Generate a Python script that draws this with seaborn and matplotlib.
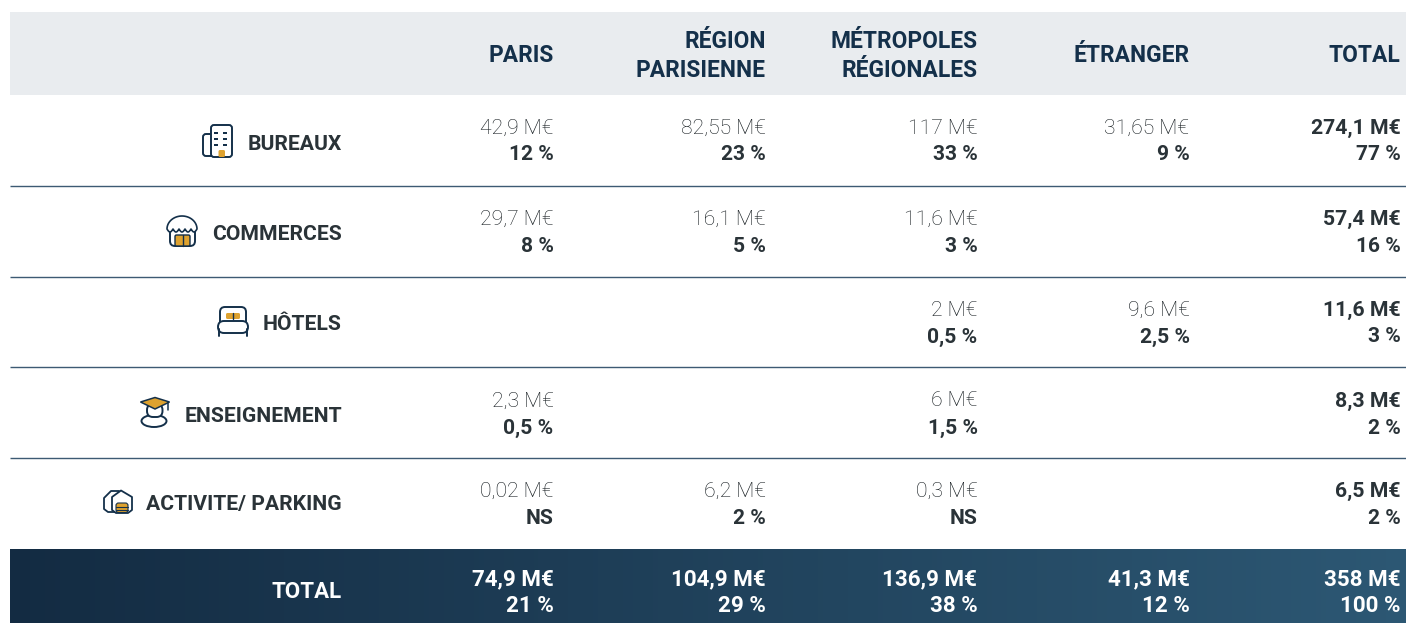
import numpy as np
import matplotlib
matplotlib.use("Agg")
import matplotlib.pyplot as plt
from matplotlib.patches import Rectangle, FancyBboxPatch, Ellipse, Polygon
import seaborn as sns

sns.set_theme(style="white")
plt.rcParams['font.family'] = ['Roboto', 'DejaVu Sans']

columns = ["PARIS", "RÉGION\nPARISIENNE", "MÉTROPOLES\nRÉGIONALES", "ÉTRANGER", "TOTAL"]
categories = ["BUREAUX", "COMMERCES", "HÔTELS", "ENSEIGNEMENT", "ACTIVITE/ PARKING"]

bureaux_val = ["42,9 M€", "82,55 M€", "117 M€", "31,65 M€", "274,1 M€"]
bureaux_pct = ["12 %", "23 %", "33 %", "9 %", "77 %"]
commerces_val = ["29,7 M€", "16,1 M€", "11,6 M€", "", "57,4 M€"]
commerces_pct = ["8 %", "5 %", "3 %", "", "16 %"]
hotels_val = ["", "", "2 M€", "9,6 M€", "11,6 M€"]
hotels_pct = ["", "", "0,5 %", "2,5 %", "3 %"]
enseignement_val = ["2,3 M€", "", "6 M€", "", "8,3 M€"]
enseignement_pct = ["0,5 %", "", "1,5 %", "", "2 %"]
activite_val = ["0,02 M€", "6,2 M€", "0,3 M€", "", "6,5 M€"]
activite_pct = ["NS", "2 %", "NS", "", "2 %"]
total_val = ["74,9 M€", "104,9 M€", "136,9 M€", "41,3 M€", "358 M€"]
total_pct = ["21 %", "29 %", "38 %", "12 %", "100 %"]

rows_val = [bureaux_val, commerces_val, hotels_val, enseignement_val, activite_val]
rows_pct = [bureaux_pct, commerces_pct, hotels_pct, enseignement_pct, activite_pct]

W, H = 1406, 623
NAVY = "#14304a"
GOLD = "#dea22f"
DARK = "#2a3338"
col_x = [553.5, 765.5, 977.5, 1189.5, 1400.5]
val_y = [128, 219, 310, 401, 491]
pct_y = [155, 246, 337, 428, 518]
label_y = [144, 234, 325, 416, 504.5]

fig = plt.figure(figsize=(W / 100, H / 100), dpi=100, facecolor="white")

# gradient band for the total row, as a one line heatmap
band = fig.add_axes([10 / W, 0, (W - 10) / W, (H - 549) / H])
cmap = sns.blend_palette(["#132b42", "#2c5773"], as_cmap=True)
sns.heatmap(np.linspace(0, 1, 280).reshape(1, -1), cmap=cmap, cbar=False,
            xticklabels=False, yticklabels=False, rasterized=True, ax=band)

ax = fig.add_axes([0, 0, 1, 1], zorder=5)
ax.set_xlim(0, W)
ax.set_ylim(H, 0)
ax.axis("off")

ax.add_patch(Rectangle((10, 12), W - 10, 83, fc="#e9ecef", ec="none"))
for y in [186, 276.5, 367, 458]:
    ax.plot([10, W], [y, y], color="#3d5a73", lw=1.0, solid_capstyle="butt")

# header
for x, name in zip(col_x, columns):
    ax.text(x, 56, name, ha="right", va="center", fontsize=16.4, fontweight="bold",
            color=NAVY, linespacing=1.3)

# body
for vy, py, ly, name, vals, pcts in zip(val_y, pct_y, label_y, categories, rows_val, rows_pct):
    ax.text(342, ly, name, ha="right", va="center", fontsize=15.2, fontweight="bold", color=DARK)
    for i, (x, v, p) in enumerate(zip(col_x, vals, pcts)):
        if i == 4:
            ax.text(x, vy, v, ha="right", va="center", fontsize=15.3, fontweight="bold", color=DARK)
        else:
            ax.text(x, vy, v, ha="right", va="center", fontsize=15.2, fontweight="light", color="#12191d")
        ax.text(x, py, p, ha="right", va="center", fontsize=15.1, fontweight="bold", color=DARK)

# total row
ax.text(342, 591.5, "TOTAL", ha="right", va="center", fontsize=16, fontweight="bold", color="white")
for x, v, p in zip(col_x, total_val, total_pct):
    ax.text(x, 579.5, v, ha="right", va="center", fontsize=16.1, fontweight="bold", color="white")
    ax.text(x, 605.5, p, ha="right", va="center", fontsize=16.1, fontweight="bold", color="white")


def box(x, y, w, h, r=3, fc="white", lw=1.4, ec=NAVY, z=6):
    ax.add_patch(FancyBboxPatch((x + r, y + r), w - 2 * r, h - 2 * r,
                                boxstyle="round,pad=%s,rounding_size=%s" % (r, r),
                                fc=fc, ec=ec, lw=lw, zorder=z))


# bureaux icon
box(203, 134, 12, 22, r=3)
box(211, 125, 21, 32, r=3)
for wy in [133, 139, 144.5]:
    for wx in [216, 225]:
        ax.add_patch(Rectangle((wx - 2, wy - 1), 4, 2, fc=NAVY, ec="none", zorder=7))
box(218.5, 150, 6.5, 7, r=1.5, fc=GOLD, lw=0, ec="none", z=7)

# commerces icon
box(170, 226, 25, 20, r=5)
box(175, 235, 15, 11, r=1.5, fc=GOLD, lw=1.0, z=7)
ax.plot([182.5, 182.5], [235, 246], color=NAVY, lw=1, zorder=8)
t = np.linspace(0, np.pi, 30)
dome = list(zip(182 + 15 * np.cos(t), 229 - 13 * np.sin(t)))
sx = np.linspace(167, 197, 61)
scallop = list(zip(sx, 229 + 3 * np.abs(np.sin((sx - 167) * np.pi / 6))))
ax.add_patch(Polygon(dome + scallop, closed=True, fc="white", ec=NAVY, lw=1.2, joinstyle="round", zorder=7))

# hotels icon
box(220, 307, 26, 22, r=5)
box(226, 313, 14, 6, r=1.5, fc=GOLD, lw=0, ec="none", z=7)
ax.plot([233, 233], [313, 319], color=NAVY, lw=1, zorder=8)
box(218, 321, 30, 12, r=6)
ax.plot([219, 219], [329, 336], color=NAVY, lw=1.4, zorder=8)
ax.plot([247, 247], [329, 336], color=NAVY, lw=1.4, zorder=8)

# enseignement icon
ax.add_patch(Ellipse((154, 421), 25, 12, fc="white", ec=NAVY, lw=1.4, zorder=6))
box(147, 404, 15.5, 13, r=6)
ax.add_patch(Polygon([(140.5, 402), (155, 397.5), (169.5, 402), (155, 409)], closed=True,
                     fc=GOLD, ec=NAVY, lw=1.1, zorder=7))
ax.plot([168, 168], [402, 410], color=NAVY, lw=1.1, zorder=7)

# activite icon
house_back = [(104, 498), (111, 491), (119, 491), (122, 497), (122, 512), (108, 512), (104, 509)]
ax.add_patch(Polygon(house_back, closed=True, fc="white", ec=NAVY, lw=1.3, joinstyle="round", zorder=6))
house_front = [(112, 497), (121, 490.5), (132, 497), (132, 510), (128, 513), (116, 513), (112, 510)]
ax.add_patch(Polygon(house_front, closed=True, fc="white", ec=NAVY, lw=1.3, joinstyle="round", zorder=6))
box(116, 503, 12, 9.5, r=2.5, fc=GOLD, lw=0.8, z=7)
ax.plot([116, 128], [506.5, 506.5], color=NAVY, lw=0.8, zorder=8)
ax.plot([116, 128], [509.5, 509.5], color=NAVY, lw=0.8, zorder=8)

fig.savefig("out.png", dpi=100, facecolor="white")
